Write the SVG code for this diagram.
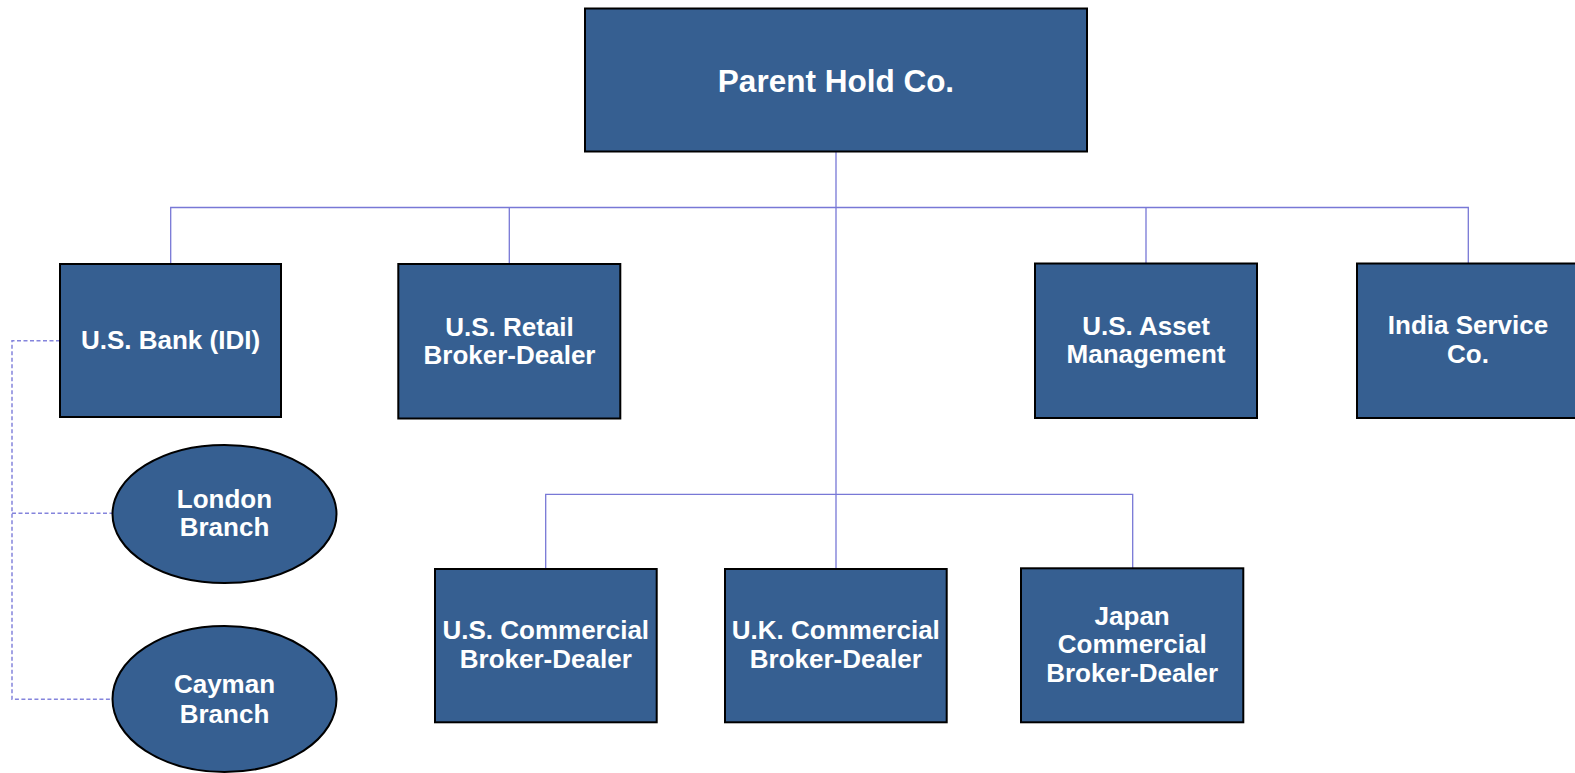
<svg xmlns="http://www.w3.org/2000/svg" width="1575" height="773" viewBox="0 0 1575 773">
<style>
.box{fill:#365f91;stroke:#000;stroke-width:2}
.t{font-family:"Liberation Sans",Arial,sans-serif;font-weight:bold;font-size:26px;fill:#fff;text-anchor:middle}
.big{font-size:31.5px}
.c{fill:none;stroke:#7878d6;stroke-width:1.3}
.d{fill:none;stroke:#8484dc;stroke-width:1.5;stroke-dasharray:4 2.5}
</style>
<rect width="1575" height="773" fill="#fff"/>
<g id="connectors">
<path class="c" d="M836 152V569M170.7 264V207.5H1468.3V264M509.3 207.5V264M1146 207.5V264M545.7 569V494.3H1132.7V569"/>
<path class="d" d="M60 340.7H12V699.3H112M12 513.3H112"/>
</g>
<g id="parent"><rect class="box" x="585" y="8.5" width="502" height="143"/><text class="t big" x="836" y="92.3">Parent Hold Co.</text></g>
<g id="us-bank"><rect class="box" x="60" y="264" width="221" height="153"/><text class="t" x="170.5" y="349">U.S. Bank (IDI)</text></g>
<g id="us-retail"><rect class="box" x="398.3" y="264" width="222" height="154.5"/><text class="t" x="509.5" y="335.7">U.S. Retail</text><text class="t" x="509.5" y="364">Broker-Dealer</text></g>
<g id="us-asset"><rect class="box" x="1035" y="263.5" width="222" height="154.5"/><text class="t" x="1146" y="335">U.S. Asset</text><text class="t" x="1146" y="363.3">Management</text></g>
<g id="india"><rect class="box" x="1357" y="263.5" width="222" height="154.5"/><text class="t" x="1468" y="334.3">India Service</text><text class="t" x="1468" y="362.7">Co.</text></g>
<g id="london"><ellipse class="box" cx="224.5" cy="514" rx="112" ry="69"/><text class="t" x="224.5" y="507.7">London</text><text class="t" x="224.5" y="536">Branch</text></g>
<g id="cayman"><ellipse class="box" cx="224.5" cy="699" rx="112" ry="73"/><text class="t" x="224.5" y="693.3">Cayman</text><text class="t" x="224.5" y="722.7">Branch</text></g>
<g id="us-commercial"><rect class="box" x="435" y="569" width="221.7" height="153.3"/><text class="t" x="545.8" y="639">U.S. Commercial</text><text class="t" x="545.8" y="668.3">Broker-Dealer</text></g>
<g id="uk-commercial"><rect class="box" x="725" y="569" width="221.7" height="153.3"/><text class="t" x="835.8" y="639">U.K. Commercial</text><text class="t" x="835.8" y="668.3">Broker-Dealer</text></g>
<g id="japan-commercial"><rect class="box" x="1021" y="568.3" width="222.3" height="154"/><text class="t" x="1132.2" y="625">Japan</text><text class="t" x="1132.2" y="653.3">Commercial</text><text class="t" x="1132.2" y="681.7">Broker-Dealer</text></g>
</svg>
